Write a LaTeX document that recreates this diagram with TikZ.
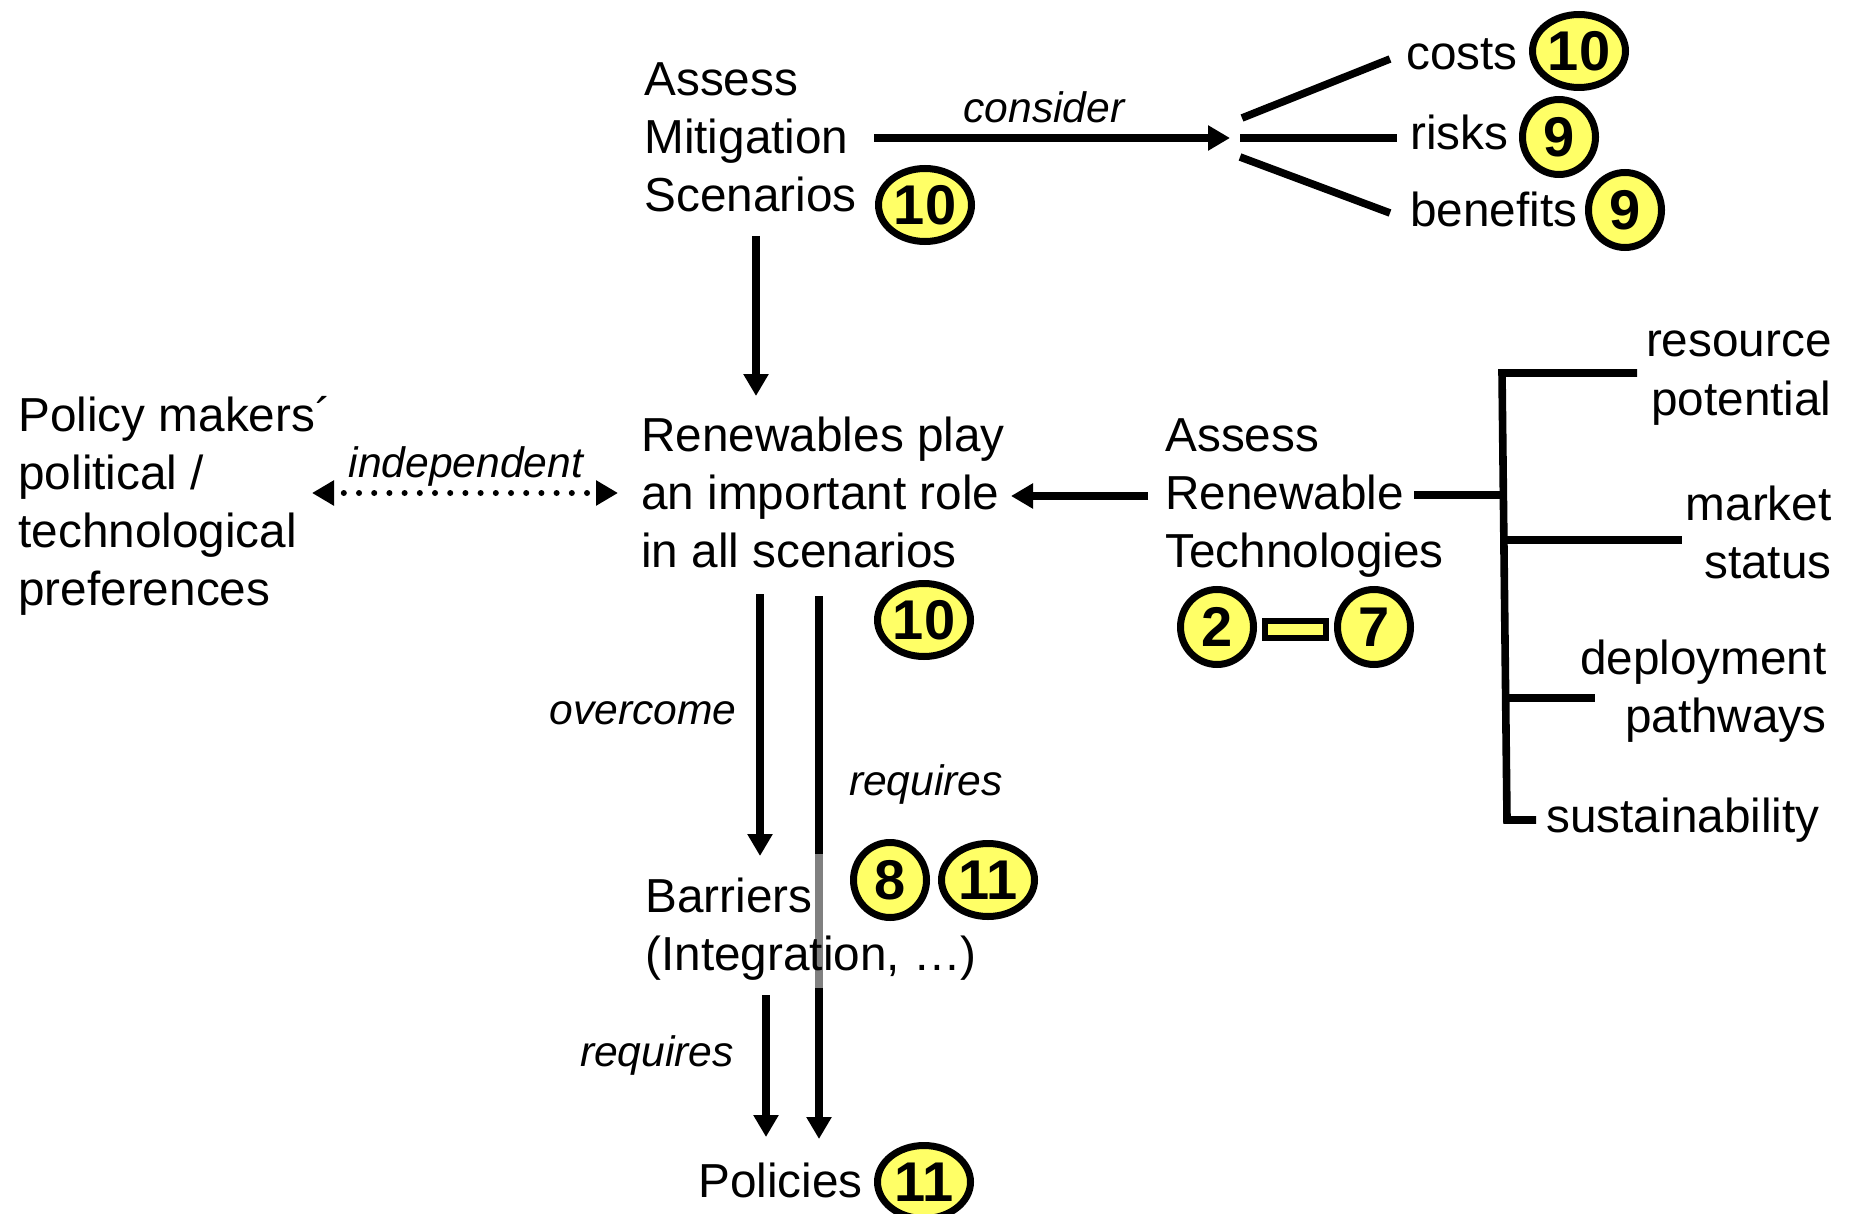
\documentclass[tikz,border=0pt]{standalone}
\usepackage{fontspec}
\setmainfont{Liberation Sans}
\usetikzlibrary{arrows.meta,shapes.geometric}
\definecolor{badgeyellow}{RGB}{255,255,102}

\tikzset{
  txt/.style={inner sep=0pt, align=left, font=\fontsize{23.85pt}{29pt}\selectfont},
  txtr/.style={txt, align=right},
  lbl/.style={inner sep=0pt, font=\fontsize{21.3pt}{26pt}\selectfont\itshape},
  badge/.style={ellipse, draw=black, line width=3.5pt, fill=badgeyellow, inner sep=0pt,
                font=\fontsize{28pt}{30pt}\selectfont\bfseries},
  badgeW/.style={badge, minimum width=46.5pt, minimum height=36.5pt},
  badgeN/.style={badge, minimum width=36.5pt, minimum height=37.5pt},
  link/.style={line width=3.8pt},
  arr/.style={link, -{Triangle[length=11pt,width=12pt]}},
  dotarr/.style={line width=3pt, line cap=round, dash pattern=on 0pt off 7.6pt, dash phase=2pt,
                 {Triangle[length=11pt,width=12pt]}-{Triangle[length=11pt,width=12pt]}},
}

\begin{document}
\begin{tikzpicture}[x=0.5pt,y=-0.5pt]
\useasboundingbox (0,0) rectangle (1852,1214);

% ---- mitigation scenarios and what they consider
% (multi-line nodes are placed by the baseline of their last line)
\node[txt, anchor=base west] (ams) at (644,212) {Assess\\Mitigation\\Scenarios};
\node[badgeW] (ams-n) at (925,205) {10};
\coordinate (ams-out) at (874,138);
\coordinate (fan) at (1230,138);
\draw[arr] (ams-out) -- (fan);
\node[lbl, anchor=base] (consider) at (1044,123) {consider};

\node[txt, anchor=base west] (costs) at (1406,70) {costs};
\node[txt, anchor=base west] (risks) at (1410,150) {risks};
\node[txt, anchor=base west] (benefits) at (1410,227) {benefits};
\node[badgeW] (costs-n) at (1579,51) {10};
\node[badgeN] (risks-n) at (1559,137) {9};
\node[badgeN] (benefits-n) at (1625,210) {9};

\coordinate (fan-u) at (1242,118);  \coordinate (costs-in) at (1390,59);
\coordinate (fan-m) at (1240,138);  \coordinate (risks-in) at (1397,138);
\coordinate (fan-l) at (1240,157);  \coordinate (benefits-in) at (1390,213);
\draw[link] (fan-u) -- (costs-in);
\draw[link] (fan-m) -- (risks-in);
\draw[link] (fan-l) -- (benefits-in);

% ---- central statement
\coordinate (ams-down) at (756,236);
\coordinate (ren-top) at (756,396);
\draw[arr] (ams-down) -- (ren-top);

\node[txt, anchor=base west] (ren) at (641,567) {Renewables play\\an important role\\in all scenarios};
\node[badgeW] (ren-n) at (924,620) {10};

% ---- policy makers' preferences
\node[txt, anchor=base west] (pm) at (18,605) {Policy makers´\\political /\\technological\\preferences};
\coordinate (pm-tip) at (312,493);
\coordinate (ren-left) at (618,493);
\draw[dotarr] (pm-tip) -- (ren-left);
\node[lbl, anchor=base] (indep) at (466,477) {independent};

% ---- renewable technologies
\node[txt, anchor=base west] (art) at (1165,567) {Assess\\Renewable\\Technologies};
\node[badgeN] (art-a) at (1217,627) {2};
\node[badgeN] (art-b) at (1374,627) {7};
\draw[line width=2.8pt, fill=badgeyellow] (1265,621) rectangle (1326,638);
\coordinate (art-out) at (1148,496);
\coordinate (ren-right) at (1011,496);
\draw[arr] (art-out) -- (ren-right);

% bracket of assessed aspects
\coordinate (art-east) at (1414,495);
\coordinate (br-top) at (1502,495);
\draw[link] (art-east) -- (br-top);
\draw[link, line join=miter] (1637,373) -- (1502,373) -- (1507,820) -- (1536,820);
\draw[link] (1505,540) -- (1682,540);
\draw[link] (1506,698) -- (1595,698);

\node[txtr, anchor=base east] (res) at (1832,415) {resource\\potential};
\node[txtr, anchor=base east] (mkt) at (1832,578) {market\\status};
\node[txtr, anchor=base east] (dep) at (1827,732) {deployment\\pathways};
\node[txt, anchor=base west] (sus) at (1546,832) {sustainability};

% ---- barriers and policies
\coordinate (ren-s1) at (760,594);
\coordinate (bar-top) at (760,856);
\draw[arr] (ren-s1) -- (bar-top);
\node[lbl, anchor=base] (overcome) at (643,724) {overcome};

\coordinate (ren-s2) at (819,596);
\coordinate (pol-top2) at (819,1139);
\draw[arr] (ren-s2) -- (pol-top2);
\draw[link, black!50] (819,854) -- (819,988);
\node[lbl, anchor=base] (req1) at (926,795) {requires};

\node[txt, anchor=base west] (bar) at (645,970) {Barriers\\(Integration, …)};
\node[badgeN] (bar-a) at (890,880) {8};
\node[badgeW] (bar-b) at (988,880) {11};

\coordinate (bar-s) at (766,995);
\coordinate (pol-top1) at (766,1137);
\draw[arr] (bar-s) -- (pol-top1);
\node[lbl, anchor=base] (req2) at (657,1066) {requires};

\node[txt, anchor=base west] (pol) at (698,1197) {Policies};
\node[badgeW] (pol-n) at (924,1182) {11};
\end{tikzpicture}
\end{document}
